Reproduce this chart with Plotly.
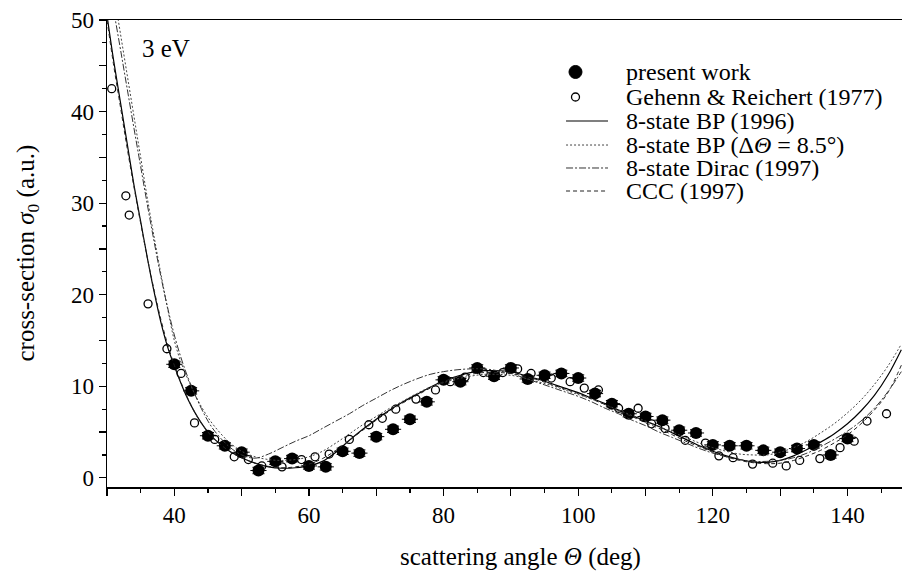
import plotly.graph_objects as go

# ---------------- data ----------------
present_x = [40, 42.5, 45, 47.5, 50, 52.5, 55, 57.5, 60, 62.5, 65, 67.5, 70, 72.5, 75, 77.5,
             80, 82.5, 85, 87.5, 90, 92.5, 95, 97.5, 100, 102.5, 105, 107.5, 110, 112.5, 115,
             117.5, 120, 122.5, 125, 127.5, 130, 132.5, 135, 137.5, 140]
present_y = [12.4, 9.5, 4.6, 3.5, 2.8, 0.8, 1.8, 2.1, 1.3, 1.2, 2.9, 2.7, 4.5, 5.3, 6.4, 8.3,
             10.7, 10.5, 12.0, 11.1, 12.0, 10.8, 11.2, 11.4, 10.9, 9.2, 8.1, 7.0, 6.7, 6.3, 5.2,
             4.9, 3.6, 3.5, 3.5, 3.0, 2.8, 3.2, 3.6, 2.5, 4.3]
present_dx = [1.2] * len(present_x)
present_dy = [0.35] * len(present_x)

gehenn_x = [30.7, 32.8, 33.3, 36.1, 38.9, 41, 43, 46, 48.9, 51, 53, 56, 58.9, 60.9, 63, 66,
            68.9, 70.9, 72.9, 75.9, 78.8, 81, 83.2, 85.9, 88.8, 91, 93, 96, 98.8, 100.9, 103,
            106, 108.9, 110.9, 112.9, 115.9, 118.9, 120.9, 123, 125.9, 128.9, 130.9, 132.9,
            135.9, 138.9, 141, 142.9, 145.8]
gehenn_y = [42.5, 30.8, 28.7, 19.0, 14.1, 11.4, 6.0, 4.2, 2.3, 2.0, 1.3, 1.2, 2.0, 2.3, 2.6, 4.2,
            5.8, 6.5, 7.5, 8.6, 9.6, 10.5, 11.0, 11.5, 11.5, 11.9, 11.4, 10.9, 10.5, 9.8, 9.6,
            7.6, 7.6, 5.9, 5.4, 4.1, 3.8, 2.4, 2.2, 1.5, 1.6, 1.3, 1.9,
            2.1, 3.3, 4.0, 6.2, 7.0]

theory_x = [30, 31, 32, 33, 34, 35, 36, 37, 38, 39, 40, 41, 42, 43, 44, 45, 46, 48, 50, 52,
            54, 56, 58, 60, 62, 64, 66, 68, 70, 72, 74, 76, 78, 80, 82, 84, 86, 88, 90, 92,
            94, 96, 98, 100, 102, 104, 106, 108, 110, 112, 114, 116, 118, 120, 122, 124, 126,
            128, 130, 132, 134, 136, 138, 140, 142, 144, 146, 148]

bp1996_y = [50.5, 45.5, 41.0, 36.5, 32.0, 28.0, 24.0, 20.3, 17.0, 14.3, 12.2, 10.3, 8.6, 7.2,
            6.0, 5.0, 4.2, 3.0, 2.2, 1.6, 1.2, 1.05, 1.1, 1.3, 1.8, 2.8, 4.1, 5.3, 6.4, 7.4,
            8.3, 9.1, 9.9, 10.6, 11.1, 11.5, 11.7, 11.7, 11.6, 11.2, 10.8, 10.3, 9.8, 9.3, 8.7,
            8.1, 7.4, 6.8, 6.2, 5.6, 4.9, 4.2, 3.5, 2.9, 2.4, 2.0, 1.75, 1.7, 1.9, 2.4, 3.1,
            3.9, 4.8, 5.9, 7.3, 9.0, 11.2, 14.0]

bp_conv_y = [57.0, 53.0, 48.5, 44.0, 39.5, 35.0, 30.5, 26.3, 22.3, 18.5, 15.0, 12.6, 10.8, 9.2,
             7.8, 6.6, 5.6, 4.0, 2.9, 2.3, 2.0, 1.9, 2.0, 2.3, 2.9, 3.8, 4.8, 5.8, 6.7, 7.6,
             8.4, 9.2, 9.9, 10.4, 10.8, 11.1, 11.3, 11.3, 11.2, 10.9, 10.5, 10.1, 9.6, 9.1,
             8.6, 8.0, 7.4, 6.8, 6.2, 5.6, 5.0, 4.4, 3.8, 3.3, 2.9, 2.6, 2.5, 2.5, 2.8, 3.3,
             4.0, 4.9, 5.9, 7.1, 8.5, 10.2, 12.2, 14.6]

dirac_y = [55.0, 51.0, 46.8, 42.5, 38.2, 34.0, 29.8, 25.8, 22.0, 18.6, 15.6, 13.1, 11.0, 9.2,
           7.6, 6.2, 5.1, 3.5, 2.5, 2.15, 2.6, 3.3, 4.0, 4.6, 5.4, 6.2, 7.0, 7.9, 8.7, 9.5,
           10.2, 10.8, 11.3, 11.6, 11.8, 11.9, 11.9, 11.7, 11.4, 10.9, 10.4, 9.9, 9.4, 8.9,
           8.3, 7.6, 7.0, 6.3, 5.7, 5.0, 4.4, 3.8, 3.2, 2.7, 2.3, 2.0, 1.8, 1.8, 1.9, 2.2,
           2.7, 3.4, 4.2, 5.1, 6.2, 7.6, 9.4, 11.6]

ccc_y = [50.0, 45.0, 40.5, 36.0, 31.8, 27.8, 24.0, 20.5, 17.3, 14.6, 12.3, 10.4, 8.7, 7.2,
         6.0, 5.0, 4.2, 3.0, 2.2, 1.6, 1.25, 1.1, 1.2, 1.5, 2.1, 3.0, 4.1, 5.2, 6.3, 7.3,
         8.2, 9.0, 9.8, 10.5, 11.0, 11.3, 11.5, 11.5, 11.4, 11.1, 10.7, 10.2, 9.7, 9.2, 8.6,
         8.0, 7.3, 6.7, 6.0, 5.4, 4.7, 4.0, 3.4, 2.8, 2.3, 1.9, 1.65, 1.55, 1.6, 1.9, 2.4,
         3.0, 3.8, 4.7, 5.9, 7.4, 9.3, 12.3]

x_ticks = [30, 40, 50, 60, 70, 80, 90, 100, 110, 120, 130, 140]
x_ticktext = ["", "40", "", "60", "", "80", "", "100", "", "120", "", "140"]
y_ticks = [0, 5, 10, 15, 20, 25, 30, 35, 40, 45, 50]
y_ticktext = ["0", "", "10", "", "20", "", "30", "", "40", "", "50"]

legend_names = ["present work", "Gehenn & Reichert (1977)", "8-state BP (1996)",
                "8-state BP (Δ<i>Θ</i> = 8.5°)", "8-state Dirac (1997)", "CCC (1997)"]

FONT = "Liberation Serif, Times New Roman, serif"
DASHES = ["solid", "2px,2px", "7px,2px,2px,2px", "4px,3px"]
LINE_COLORS = ["black", "#444", "#333", "#222"]
LINE_WIDTHS = [1.2, 1.0, 1.0, 1.0]

fig = go.Figure()

fig.add_trace(go.Scatter(
    x=present_x, y=present_y, mode="markers", name=legend_names[0],
    marker=dict(symbol="circle", size=12, color="black"),
    error_x=dict(type="data", array=present_dx, color="black", thickness=1, width=0),
    error_y=dict(type="data", array=present_dy, color="black", thickness=1, width=6),
))
fig.add_trace(go.Scatter(
    x=gehenn_x, y=gehenn_y, mode="markers", name=legend_names[1],
    marker=dict(symbol="circle-open", size=8, color="black", line=dict(width=1.3)),
))
for i, yy in enumerate([bp1996_y, bp_conv_y, dirac_y, ccc_y]):
    fig.add_trace(go.Scatter(
        x=theory_x, y=yy, mode="lines", name=legend_names[i + 2], line_shape="spline",
        line=dict(color=LINE_COLORS[i], width=LINE_WIDTHS[i], dash=DASHES[i]),
    ))

# ---- hand-made legend (compact rows like the original) ----
row_y = [0.8887, 0.8351, 0.7837, 0.7323, 0.6831, 0.6338]
sym_x = 0.5893
line_x0, line_x1 = 0.5774, 0.6302
text_x = 0.6503
shapes = [
    dict(type="circle", xref="paper", yref="paper", xsizemode="pixel", ysizemode="pixel",
         xanchor=sym_x, yanchor=row_y[0], x0=-6.5, x1=6.5, y0=-6.5, y1=6.5,
         fillcolor="black", line=dict(color="black", width=1)),
    dict(type="circle", xref="paper", yref="paper", xsizemode="pixel", ysizemode="pixel",
         xanchor=sym_x, yanchor=row_y[1], x0=-4, x1=4, y0=-4, y1=4,
         fillcolor="white", line=dict(color="black", width=1.3)),
]
for i in range(4):
    shapes.append(dict(type="line", xref="paper", yref="paper",
                       x0=line_x0, x1=line_x1, y0=row_y[i + 2], y1=row_y[i + 2],
                       line=dict(color=LINE_COLORS[i], width=LINE_WIDTHS[i], dash=DASHES[i])))

annotations = [
    dict(text="3 eV", xref="paper", yref="paper", x=0.0415, y=0.94,
         xanchor="left", yanchor="middle", showarrow=False,
         font=dict(family=FONT, size=25)),
    dict(text="cross-section <i>σ</i><sub>0</sub> (a.u.)", xref="paper", yref="paper",
         x=-0.1006, y=0.5, xanchor="center", yanchor="middle", textangle=-90,
         showarrow=False, font=dict(family=FONT, size=25)),
    dict(text="scattering angle <i>Θ</i> (deg)", xref="paper", yref="paper",
         x=0.52, y=-0.15, xanchor="center", yanchor="middle", showarrow=False,
         font=dict(family=FONT, size=25)),
]
for name, yv in zip(legend_names, row_y):
    annotations.append(dict(text=name, xref="paper", yref="paper", x=text_x, y=yv,
                            xanchor="left", yanchor="middle", showarrow=False,
                            font=dict(family=FONT, size=24)))

fig.update_layout(
    width=902, height=574,
    margin=dict(l=107, r=0, t=20, b=87),
    paper_bgcolor="white", plot_bgcolor="white",
    font=dict(family=FONT, size=23, color="black"),
    showlegend=False,
    xaxis=dict(range=[30, 148.1], tickvals=x_ticks, ticktext=x_ticktext, automargin=False,
               ticks="outside", ticklen=7, tickwidth=1.2, tickcolor="black",
               minor=dict(dtick=5, tick0=30, ticks="outside", ticklen=4, tickcolor="black"),
               showline=True, linecolor="black", linewidth=1.5, mirror=True,
               showgrid=False, zeroline=False,
               tickfont=dict(family=FONT, size=23)),
    yaxis=dict(range=[-1, 50], tickvals=y_ticks, ticktext=y_ticktext, automargin=False,
               ticks="outside", ticklen=7, tickwidth=1.2, tickcolor="black",
               minor=dict(dtick=2.5, tick0=0, ticks="outside", ticklen=4, tickcolor="black"),
               showline=True, linecolor="black", linewidth=1.5,
               showgrid=False, zeroline=False,
               tickfont=dict(family=FONT, size=23)),
    shapes=shapes,
    annotations=annotations,
)

# remove the default page margin so the figure sits at the window's top-left corner
fig.write_html("out.html",
               config={"displayModeBar": False, "staticPlot": True},
               post_script="document.body.style.margin='0px';"
                           "document.body.style.overflow='hidden';")
